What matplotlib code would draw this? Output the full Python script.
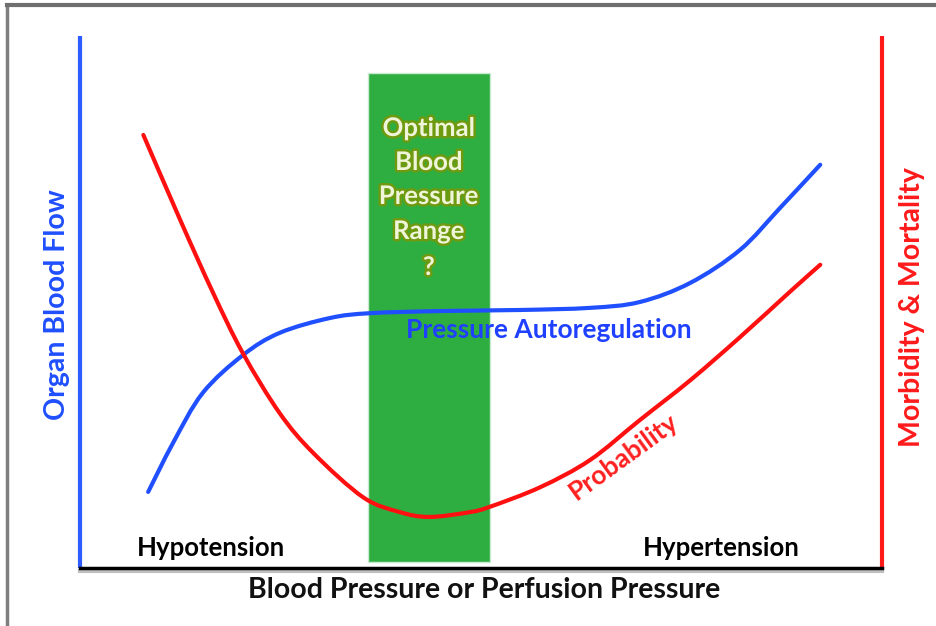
import matplotlib
matplotlib.use("Agg")
import matplotlib.pyplot as plt
import matplotlib.patheffects as pe
from matplotlib.lines import Line2D
from matplotlib.path import Path
from matplotlib.patches import PathPatch

W, H = 937, 626
# Data (x: blood pressure scale 0-100, y: 0-100)
flow_x = [8.5, 11.6, 15.3, 20.3, 24.9, 31.2, 36.2, 44.9, 54.9, 63.6, 69.8, 76.1, 82.3, 87.3, 92.3]
flow_y = [14.3, 23.5, 32.9, 40.0, 44.2, 47.0, 47.9, 48.3, 48.5, 48.9, 50.0, 53.6, 59.8, 67.7, 75.8]

risk_x = [7.9, 12.5, 16.6, 20.3, 24.9, 29.1, 35.3, 39.9, 43.6, 48.6, 51.1, 57.4, 63.6, 69.8, 76.1, 82.3, 88.5, 92.3]
risk_y = [81.4, 65.4, 51.7, 40.4, 29.1, 21.6, 13.3, 10.5, 9.6, 10.5, 11.5, 15.2, 20.3, 27.8, 35.3, 43.4, 51.9, 57.0]

optimal_range = [35.9, 51.1]


def smooth_path(xs, ys):
    """Bezier path through the given points (Catmull-Rom control points)."""
    pts = list(zip(xs, ys))
    verts = [pts[0]]
    codes = [Path.MOVETO]
    n = len(pts)
    for i in range(n - 1):
        p0 = pts[i - 1] if i > 0 else pts[i]
        p1 = pts[i]
        p2 = pts[i + 1]
        p3 = pts[i + 2] if i + 2 < n else pts[i + 1]
        c1 = (p1[0] + (p2[0] - p0[0]) / 6, p1[1] + (p2[1] - p0[1]) / 6)
        c2 = (p2[0] - (p3[0] - p1[0]) / 6, p2[1] - (p3[1] - p1[1]) / 6)
        verts += [c1, c2, p2]
        codes += [Path.CURVE4] * 3
    return Path(verts, codes)


fig = plt.figure(figsize=(W / 100, H / 100), dpi=100)
fig.patch.set_facecolor("white")

# outer frame (gray)
fig.add_artist(Line2D([7 / W, 7 / W], [0, 1 - 5 / H], color="#7f7f7f", lw=2.5, transform=fig.transFigure))
fig.add_artist(Line2D([7 / W, 1], [1 - 5 / H, 1 - 5 / H], color="#6f6f6f", lw=3, transform=fig.transFigure))

left, right, top, bottom = 80, 882, 36, 568
ax = fig.add_axes([left / W, 1 - bottom / H, (right - left) / W, (bottom - top) / H])
ax.set_xlim(0, 100)
ax.set_ylim(0, 100)
ax.set_xticks([])
ax.set_yticks([])
for s in ax.spines.values():
    s.set_visible(False)

# axis lines
ax.plot([0, 0], [0, 100], color="#2f5cff", lw=3, solid_capstyle="butt", clip_on=False)
ax.plot([100, 100], [0, 100], color="#ff1a1a", lw=3, solid_capstyle="butt", clip_on=False)
ax.plot([0, 100], [-0.5, -0.5], color="#c0c0c0", lw=3, clip_on=False)
ax.plot([0, 100], [0, 0], color="black", lw=2.5, clip_on=False)

# optimal range
ax.axvspan(optimal_range[0], optimal_range[1], ymin=0.011, ymax=0.93,
           facecolor="#2eae40", edgecolor="#c8ead0", lw=1)

ax.add_patch(PathPatch(smooth_path(flow_x, flow_y), fill=False, edgecolor="#1f4fff",
                       lw=3, capstyle="round", zorder=3))
ax.add_patch(PathPatch(smooth_path(risk_x, risk_y), fill=False, edgecolor="#ff1010",
                       lw=3, capstyle="round", zorder=3))

font = "Lato"
cx = (optimal_range[0] + optimal_range[1]) / 2
for i, t in enumerate(["Optimal", "Blood", "Pressure", "Range", "?"]):
    py = [128, 162, 196, 231, 267][i]
    ax.text(cx, (bottom - py) / (bottom - top) * 100, t, ha="center", va="center",
            fontsize=18.5, fontweight="bold", family=font, color="#eef5d8",
            path_effects=[pe.withStroke(linewidth=3.5, foreground="#6f9a10")], zorder=4)

ax.text((549 - left) / (right - left) * 100, (bottom - 330) / (bottom - top) * 100,
        "Pressure Autoregulation", ha="center", va="center", fontsize=19,
        fontweight="bold", family=font, color="#2040ff", zorder=4)
ax.text((624 - left) / (right - left) * 100, (bottom - 457) / (bottom - top) * 100,
        "Probability", ha="center", va="center", fontsize=19, rotation=36,
        fontweight="bold", family=font, color="#ff2020", zorder=4)
ax.text((211 - left) / (right - left) * 100, (bottom - 548) / (bottom - top) * 100,
        "Hypotension", ha="center", va="center", fontsize=18.5,
        family=font, color="black", fontweight="bold")
ax.text((721 - left) / (right - left) * 100, (bottom - 548) / (bottom - top) * 100,
        "Hypertension", ha="center", va="center", fontsize=18.5,
        family=font, color="black", fontweight="bold")

fig.text(484 / W, 1 - 590 / H, "Blood Pressure or Perfusion Pressure", ha="center", va="center",
         fontsize=20.5, fontweight="bold", family=font, color="#111111")
fig.text(57 / W, 1 - 305 / H, "Organ Blood Flow", ha="center", va="center", rotation=90,
         fontsize=20.5, fontweight="bold", family=font, color="#1f4fff")
fig.text(912 / W, 1 - 307 / H, "Morbidity & Mortality", ha="center", va="center", rotation=90,
         fontsize=20.5, fontweight="bold", family=font, color="#ff1a1a")

fig.savefig("out.png", dpi=100)
